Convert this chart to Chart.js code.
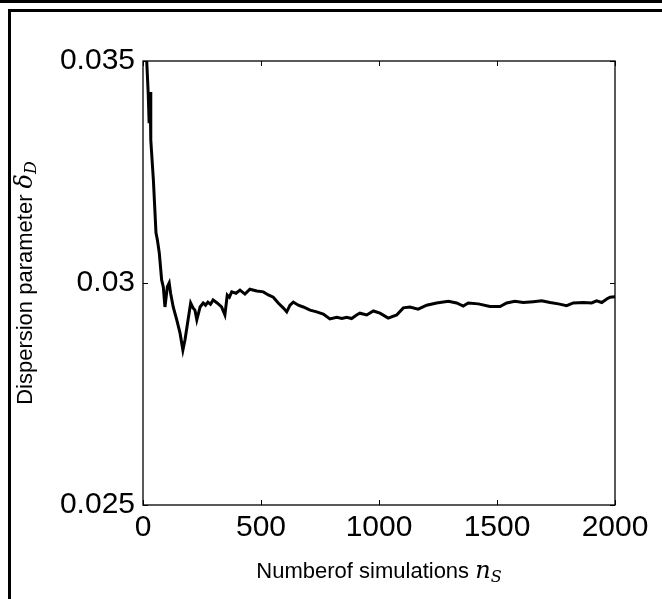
<!DOCTYPE html>
<html>
<head>
<meta charset="utf-8">
<title>Dispersion parameter</title>
<script src="https://cdn.jsdelivr.net/npm/chart.js@4/dist/chart.umd.min.js"></script>
<style>
  html, body { margin: 0; padding: 0; background: #fff; }
  .wrap { position: relative; width: 662px; height: 599px; }
</style>
</head>
<body>
<div class="wrap"><canvas id="chart"></canvas></div>
<script>
'use strict';

// number of simulations (x) and running dispersion estimate (y)
var nSims = [2, 8, 14, 22, 26, 30, 33, 44, 55, 61, 69, 79, 86, 93, 103, 111, 117, 128, 143, 157,
  169, 178, 191, 202, 212, 220, 228, 242, 255, 265, 275, 286, 297, 314, 333, 347, 357, 366, 376, 394, 411, 432, 453, 482,
  510, 531, 552, 573, 594, 609, 623, 637, 658, 679, 708, 736, 764, 792, 821, 843, 863, 884, 905, 919, 948, 976, 1004,
  1039, 1075, 1103, 1131, 1166, 1202, 1244, 1294, 1329, 1357, 1378, 1421, 1470, 1513, 1541, 1576, 1611, 1654, 1689, 1725,
  1760, 1795, 1823, 1866, 1901, 1922, 1944, 1965, 1979, 2000];
var delta = [0.0390, 0.0372, 0.0352, 0.03428, 0.0336, 0.0343, 0.03322, 0.03232, 0.03113, 0.03097,
  0.03068, 0.03007, 0.02991, 0.02946, 0.02991, 0.03000, 0.02977, 0.02946, 0.02917, 0.02887,
  0.02849, 0.02872, 0.02917, 0.02955, 0.02944, 0.02939, 0.02917, 0.02946, 0.02955, 0.02950, 0.02957, 0.02952, 0.02962,
  0.02955, 0.02946, 0.02928, 0.02973, 0.02968, 0.02980, 0.02977, 0.02984, 0.02975, 0.02986, 0.02982,
  0.02980, 0.02973, 0.02968, 0.02955, 0.02944, 0.02935, 0.02950, 0.02957, 0.02950, 0.02946, 0.02939,
  0.02935, 0.02930, 0.02919, 0.02923, 0.02920, 0.02923, 0.02920, 0.02928, 0.02932, 0.02928, 0.02937, 0.02932,
  0.02921, 0.02928, 0.02944, 0.02946, 0.02941, 0.02950, 0.02955, 0.02959, 0.02955, 0.02948,
  0.02955, 0.02953, 0.02947, 0.02947, 0.02955, 0.02959, 0.02956, 0.02958, 0.02960, 0.02956,
  0.02953, 0.02949, 0.02955, 0.02956, 0.02955, 0.02960, 0.02956, 0.02964, 0.02968, 0.02969];

var xTicks = [0, 500, 1000, 1500, 2000];
var yTicks = [0.025, 0.03, 0.035];
var xTitle = 'Numberof simulations ';
var yTitle = 'Dispersion parameter ';

var font = '"Liberation Sans", Arial, sans-serif';
var mathFont = '"DejaVu Serif", "Liberation Serif", serif';

// narrow face for the titles if it is there, otherwise a smaller regular one
var titleFont = '22px ' + font;
(function() {
  var c = document.createElement('canvas').getContext('2d');
  c.font = '26px monospace';
  var mono = c.measureText('Numberof simulations').width;
  c.font = '26px "Liberation Sans Narrow", monospace';
  if (Math.abs(c.measureText('Numberof simulations').width - mono) > 1) {
    titleFont = '26px "Liberation Sans Narrow", ' + font;
  }
})();

var points = nSims.map(function(n, i) { return { x: n, y: delta[i] }; });

// draws the outer page frame, the box, inward ticks and the axis titles
var decor = {
  id: 'decor',
  beforeDraw: function(chart) {
    var ctx = chart.ctx;
    ctx.save();
    ctx.fillStyle = '#000';
    ctx.fillRect(0, 0, chart.width, 3);
    ctx.fillRect(8, 9, chart.width - 8, 3);
    ctx.fillRect(8, 9, 3, chart.height - 9);
    ctx.restore();
  },
  afterDraw: function(chart) {
    var ctx = chart.ctx;
    var a = chart.chartArea;
    var xs = chart.scales.x, ys = chart.scales.y;
    ctx.save();
    ctx.strokeStyle = '#000';
    ctx.lineWidth = 1.3;
    ctx.strokeRect(a.left, a.top, a.right - a.left, a.bottom - a.top);
    ctx.lineWidth = 1;
    ctx.beginPath();
    xTicks.forEach(function(t) {
      var px = Math.round(xs.getPixelForValue(t)) + 0.5;
      ctx.moveTo(px, a.bottom); ctx.lineTo(px, a.bottom - 5);
      ctx.moveTo(px, a.top); ctx.lineTo(px, a.top + 5);
    });
    yTicks.forEach(function(t) {
      var py = Math.round(ys.getPixelForValue(t)) + 0.5;
      ctx.moveTo(a.left, py); ctx.lineTo(a.left + 5, py);
      ctx.moveTo(a.right, py); ctx.lineTo(a.right - 5, py);
    });
    ctx.stroke();

    ctx.fillStyle = '#000';
    ctx.textBaseline = 'alphabetic';
    // x title
    ctx.font = titleFont;
    var w1 = ctx.measureText(xTitle).width;
    ctx.font = 'italic 24px ' + mathFont;
    var w2 = ctx.measureText('n').width;
    ctx.font = 'italic 16px ' + mathFont;
    var w3 = ctx.measureText('S').width;
    var cx = (a.left + a.right) / 2;
    var x0 = cx - (w1 + w2 + w3) / 2;
    var base = 578;
    ctx.textAlign = 'left';
    ctx.font = titleFont;
    ctx.fillText(xTitle, x0, base);
    ctx.font = 'italic 24px ' + mathFont;
    ctx.fillText('n', x0 + w1, base);
    ctx.font = 'italic 16px ' + mathFont;
    ctx.fillText('S', x0 + w1 + w2, base + 4);

    // y title, rotated
    ctx.translate(32, (a.top + a.bottom) / 2);
    ctx.rotate(-Math.PI / 2);
    ctx.font = titleFont;
    w1 = ctx.measureText(yTitle).width;
    ctx.font = 'italic 24px ' + mathFont;
    w2 = ctx.measureText('\u03b4').width;
    ctx.font = 'italic 16px ' + mathFont;
    w3 = ctx.measureText('D').width;
    x0 = -(w1 + w2 + w3) / 2;
    ctx.font = titleFont;
    ctx.fillText(yTitle, x0, 0);
    ctx.font = 'italic 24px ' + mathFont;
    ctx.fillText('\u03b4', x0 + w1, 0);
    ctx.font = 'italic 16px ' + mathFont;
    ctx.fillText('D', x0 + w1 + w2, 4);
    ctx.restore();
  }
};

var canvas = document.getElementById('chart');
new Chart(canvas, {
  type: 'line',
  data: {
    datasets: [{
      data: points,
      borderColor: '#000',
      borderWidth: 3,
      pointRadius: 0,
      tension: 0,
      fill: false
    }]
  },
  options: {
    responsive: true,
    maintainAspectRatio: false,
    animation: false,
    events: [],
    layout: { padding: { left: 0, top: 61, right: 47, bottom: 0 } },
    plugins: { legend: { display: false }, tooltip: { enabled: false } },
    scales: {
      x: {
        type: 'linear',
        min: 0,
        max: 2000,
        afterFit: function(s) { s.height = 94; },
        afterBuildTicks: function(s) { s.ticks = xTicks.map(function(v) { return { value: v }; }); },
        grid: { display: false, drawTicks: false },
        border: { display: false },
        ticks: {
          color: '#000',
          padding: 5,
          maxRotation: 0,
          font: { family: font, size: 30 },
          callback: function(v) { return String(v); }
        }
      },
      y: {
        type: 'linear',
        min: 0.025,
        max: 0.035,
        afterFit: function(s) { s.width = 143; },
        afterBuildTicks: function(s) { s.ticks = yTicks.map(function(v) { return { value: v }; }); },
        grid: { display: false, drawTicks: false },
        border: { display: false },
        ticks: {
          color: '#000',
          padding: 8,
          font: { family: font, size: 30 },
          callback: function(v) { return String(+v.toFixed(3)); }
        }
      }
    }
  },
  plugins: [decor]
});
</script>
</body>
</html>
